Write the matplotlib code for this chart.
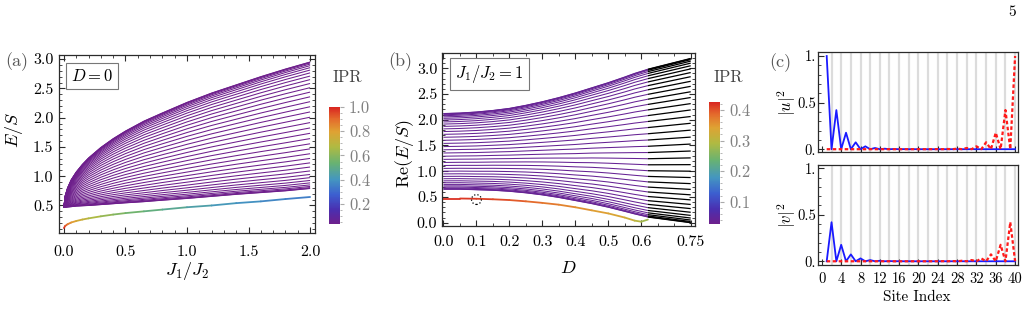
import matplotlib
matplotlib.use("Agg")
import matplotlib.pyplot as plt
import numpy as np
from matplotlib.collections import LineCollection
from matplotlib.colors import LinearSegmentedColormap, Normalize
from matplotlib.cm import ScalarMappable
from matplotlib.ticker import MultipleLocator

plt.rcParams.update({
    "font.family": "serif",
    "font.serif": ["cmr10", "DejaVu Serif"],
    "mathtext.fontset": "cm",
    "axes.unicode_minus": False,
    "font.size": 11,
})

# ---------------- data ----------------
# (a) D = 0 : spectrum against J1/J2
ratio_a = [0.0, 0.01, 0.03, 0.06, 0.1, 0.15, 0.2, 0.3, 0.4, 0.5, 0.65, 0.8, 1.0, 1.2, 1.4, 1.6, 1.8, 2.0]
band_top_a = [0.47, 0.66, 0.80, 0.94, 1.07, 1.20, 1.31, 1.49, 1.64, 1.77, 1.94, 2.08, 2.26, 2.42, 2.56, 2.70, 2.83, 2.95]
band_bot_a = [0.47, 0.47, 0.475, 0.48, 0.49, 0.495, 0.50, 0.515, 0.53, 0.545, 0.565, 0.59, 0.62, 0.655, 0.69, 0.72, 0.75, 0.79]
edge_a = [0.115, 0.15, 0.18, 0.21, 0.235, 0.26, 0.28, 0.315, 0.345, 0.37, 0.40, 0.43, 0.47, 0.50, 0.54, 0.57, 0.61, 0.645]
edge_ipr_a = [1.0, 0.95, 0.89, 0.83, 0.78, 0.73, 0.69, 0.64, 0.60, 0.57, 0.53, 0.50, 0.46, 0.43, 0.40, 0.38, 0.36, 0.34]

# relative position of the 38 bulk levels between band bottom and band top
band_frac = [0.0, 0.0018, 0.0072, 0.0162, 0.0285, 0.0444, 0.0635, 0.0858, 0.111, 0.139,
             0.1697, 0.2027, 0.2379, 0.2749, 0.3135, 0.3535, 0.3946, 0.4364, 0.4788, 0.5212,
             0.5636, 0.6054, 0.6465, 0.6865, 0.7251, 0.7621, 0.7973, 0.8303, 0.861, 0.889,
             0.9142, 0.9365, 0.9556, 0.9715, 0.9838, 0.9928, 0.9982, 1.0]

# (b) J1/J2 = 1 : spectrum against D (real spectrum up to D = 0.62)
d_b = [0.0, 0.05, 0.1, 0.15, 0.2, 0.25, 0.3, 0.35, 0.4, 0.45, 0.5, 0.55, 0.58, 0.6, 0.62]
band_top_b = [2.12, 2.13, 2.15, 2.18, 2.22, 2.28, 2.35, 2.43, 2.52, 2.62, 2.72, 2.83, 2.90, 2.94, 2.98]
band_bot_b = [0.65, 0.65, 0.64, 0.63, 0.61, 0.58, 0.54, 0.49, 0.43, 0.37, 0.30, 0.22, 0.17, 0.14, 0.11]
edge_b = [0.47, 0.47, 0.465, 0.455, 0.44, 0.415, 0.385, 0.35, 0.30, 0.24, 0.18, 0.10, 0.04, 0.02, 0.06]
edge_ipr_b = [0.42, 0.42, 0.41, 0.41, 0.40, 0.39, 0.38, 0.37, 0.36, 0.35, 0.34, 0.33, 0.31, 0.29, 0.27]
# complex region (black): real parts at D = 0.75
d_end_b = 0.75
band_top_end_b = 3.19
band_bot_end_b = 0.0
marked_point_b = (0.1, 0.45)

# (c) edge-state profiles
sites = list(range(1, 41))
u_left = [1.0, 0.0, 0.42, 0.0, 0.177, 0.0, 0.074, 0.0, 0.031, 0.0, 0.013, 0.0, 0.0055, 0.0,
          0.0023, 0.0, 0.001, 0.0, 0.0004, 0.0] + [0.0] * 20
u_right = [0.0] * 20 + [0.0, 0.0004, 0.0, 0.001, 0.0, 0.0023, 0.0, 0.0055, 0.0, 0.013,
                        0.0, 0.031, 0.0, 0.074, 0.0, 0.177, 0.0, 0.42, 0.0, 1.0]
v_left = [0.0, 0.42, 0.0, 0.177, 0.0, 0.074, 0.0, 0.031, 0.0, 0.013, 0.0, 0.0055, 0.0,
          0.0023, 0.0, 0.001, 0.0, 0.0004, 0.0, 0.0] + [0.0] * 20
v_right = [0.0] * 20 + [0.0, 0.0, 0.0004, 0.0, 0.001, 0.0, 0.0023, 0.0, 0.0055, 0.0,
                        0.013, 0.0, 0.031, 0.0, 0.074, 0.0, 0.177, 0.0, 0.42, 0.0]

# ---------------- style ----------------
W, H = 1029, 313
rainbow = LinearSegmentedColormap.from_list("rainbow_m", [
    (0.00, "#6e1f8c"), (0.12, "#4a2fb0"), (0.25, "#3c5fd0"), (0.38, "#4496c0"),
    (0.52, "#68b272"), (0.66, "#b0ba42"), (0.79, "#dfa233"), (0.90, "#e46a2c"),
    (1.00, "#d92521")])
FRAME = "#2b2b2b"
GRAY_TXT = "#808080"


def rect(l, t, r, b):
    return [l / W, 1 - b / H, (r - l) / W, (b - t) / H]


def frame(ax, four=True, size=11.5):
    for s in ax.spines.values():
        s.set_color(FRAME)
        s.set_linewidth(0.9)
    ax.tick_params(which="both", direction="in", top=four, right=four, color=FRAME, labelsize=size)
    ax.tick_params(which="major", length=4, width=0.8)
    ax.tick_params(which="minor", length=2, width=0.6)


def colored_line(ax, x, y, c, norm, lw=1.3):
    pts = np.column_stack([x, y])
    segs = np.stack([pts[:-1], pts[1:]], axis=1)
    cvals = (np.asarray(c[:-1]) + np.asarray(c[1:])) / 2
    lc = LineCollection(segs, cmap=rainbow, norm=norm, linewidths=lw, capstyle="round")
    lc.set_array(cvals)
    ax.add_collection(lc)


def colorbar(cax, norm, major, minor, fmt):
    cb = plt.colorbar(ScalarMappable(norm=norm, cmap=rainbow), cax=cax)
    cb.outline.set_visible(False)
    cb.set_ticks(major)
    cb.set_ticklabels([fmt.format(t) for t in major])
    cax.yaxis.set_minor_locator(MultipleLocator(minor))
    cax.tick_params(which="both", direction="out", colors="#aaaaaa", labelcolor=GRAY_TXT, labelsize=12)
    cax.tick_params(which="major", length=3)
    cax.tick_params(which="minor", length=1.5)


fig = plt.figure(figsize=(W / 100, H / 100), dpi=100)

# ---------------- (a) ----------------
ax = fig.add_axes(rect(59, 55, 315, 233))
frame(ax)
norm_a = Normalize(0.035, 1.0)
top = np.array(band_top_a)
bot = np.array(band_bot_a)
purple = rainbow(0.0)
for f in band_frac:
    ax.plot(ratio_a, bot + f * (top - bot), color=purple, lw=0.75, solid_capstyle="butt")
colored_line(ax, ratio_a, edge_a, edge_ipr_a, norm_a)
ax.set_xlim(-0.04, 2.04)
ax.set_ylim(0.03, 3.07)
ax.set_xticks([0.0, 0.5, 1.0, 1.5, 2.0])
ax.set_xticklabels(["0.0", "0.5", "1.0", "1.5", "2.0"])
ax.set_yticks([0.5, 1.0, 1.5, 2.0, 2.5, 3.0])
ax.set_yticklabels(["0.5", "1.0", "1.5", "2.0", "2.5", "3.0"])
ax.xaxis.set_minor_locator(MultipleLocator(0.1))
ax.yaxis.set_minor_locator(MultipleLocator(0.1))
ax.tick_params(axis="x", pad=9)
ax.tick_params(axis="y", pad=4)
ax.text(0.045, 0.855, "$D=0$", transform=ax.transAxes, fontsize=12,
        bbox=dict(boxstyle="square,pad=0.3", fc="white", ec="#777777", lw=0.8))
fig.text(187 / W, 1 - 271 / H, "$J_1/J_2$", ha="center", va="center", fontsize=13)
fig.text(14 / W, 1 - 130 / H, "$E/S$", ha="center", va="center", rotation=90, fontsize=13)
fig.text(17 / W, 1 - 62 / H, "(a)", ha="center", va="center", fontsize=13, color="#555555")

cax = fig.add_axes(rect(329, 107, 340, 224))
colorbar(cax, norm_a, [0.2, 0.4, 0.6, 0.8, 1.0], 0.05, "{:.1f}")
fig.text(347 / W, 1 - 77 / H, "IPR", ha="center", va="center", fontsize=12, color="#444444")

# ---------------- (b) ----------------
ax = fig.add_axes(rect(441.5, 53.3, 695, 226))
frame(ax)
norm_b = Normalize(0.027, 0.427)
top = np.array(band_top_b)
bot = np.array(band_bot_b)
purple_b = rainbow(0.03)
for f in band_frac:
    ax.plot(d_b, bot + f * (top - bot), color=purple_b, lw=0.75, solid_capstyle="butt")
    start = bot[-1] + f * (top[-1] - bot[-1])
    end = band_bot_end_b + f * (band_top_end_b - band_bot_end_b)
    ax.plot([d_b[-1], d_end_b], [start, end], color="black", lw=0.9, solid_capstyle="butt")
colored_line(ax, d_b, edge_b, edge_ipr_b, norm_b)
ax.scatter([marked_point_b[0]], [marked_point_b[1]], s=50, facecolors="none",
           edgecolors="black", linestyles=":", linewidths=0.9, zorder=5)
ax.set_xlim(-0.006, 0.763)
ax.set_ylim(-0.064, 3.29)
ax.set_xticks([0.0, 0.1, 0.2, 0.3, 0.4, 0.5, 0.6, 0.75])
ax.set_xticklabels(["0.0", "0.1", "0.2", "0.3", "0.4", "0.5", "0.6", "0.75"])
ax.set_yticks([0.0, 0.5, 1.0, 1.5, 2.0, 2.5, 3.0])
ax.set_yticklabels(["0.0", "0.5", "1.0", "1.5", "2.0", "2.5", "3.0"])
ax.xaxis.set_minor_locator(MultipleLocator(0.05))
ax.yaxis.set_minor_locator(MultipleLocator(0.1))
ax.tick_params(axis="x", pad=7)
ax.tick_params(axis="y", pad=3)
ax.text(0.055, 0.855, "$J_1/J_2=1$", transform=ax.transAxes, fontsize=12,
        bbox=dict(boxstyle="square,pad=0.3", fc="white", ec="#777777", lw=0.8))
fig.text(568 / W, 1 - 268 / H, "$D$", ha="center", va="center", fontsize=13)
fig.text(405 / W, 1 - 154 / H, r"$\mathrm{Re}(E/S)$", ha="center", va="center", rotation=90, fontsize=13)
fig.text(400 / W, 1 - 62 / H, "(b)", ha="center", va="center", fontsize=13, color="#555555")

cax = fig.add_axes(rect(709, 101.7, 720, 224))
colorbar(cax, norm_b, [0.1, 0.2, 0.3, 0.4], 0.02, "{:.1f}")
fig.text(728 / W, 1 - 77 / H, "IPR", ha="center", va="center", fontsize=12, color="#444444")

# ---------------- (c) ----------------
for rc, left, right, ylab, ylim, last in [
        ((818, 52.3, 1018, 152), u_left, u_right, "$|u|^2$", (-0.03, 1.04), False),
        ((818, 165, 1018, 265), v_left, v_right, "$|v|^2$", (-0.04, 1.035), True)]:
    ax = fig.add_axes(rect(*rc))
    frame(ax, four=False, size=10.5)
    for s in range(2, 41, 2):
        ax.axvline(s, color="#dcdcdc", lw=1.6, zorder=0)
    ax.plot(sites, left, color="#1a1aff", lw=1.3, zorder=2)
    ax.plot(sites, right, color="#ff1a1a", lw=1.6, ls=(0, (1.6, 1.1)), zorder=3)
    ax.set_xlim(-0.8, 40.6)
    ax.set_ylim(*ylim)
    ax.set_xticks(range(0, 41, 4))
    ax.set_yticks([0.0, 0.5, 1.0])
    ax.set_yticklabels(["0.", "0.5", "1."])
    ax.yaxis.set_minor_locator(MultipleLocator(0.1))
    ax.tick_params(axis="y", pad=1.5)
    ax.tick_params(axis="x", pad=5)
    if not last:
        ax.set_xticklabels([])
    fig.text(787 / W, 1 - ((rc[1] + rc[3]) / 2) / H, ylab, ha="center", va="center",
             rotation=90, fontsize=12)
fig.text(917 / W, 1 - 297 / H, "Site Index", ha="center", va="center", fontsize=11)
fig.text(780 / W, 1 - 63 / H, "(c)", ha="center", va="center", fontsize=13, color="#555555")

fig.text(1012 / W, 1 - 12 / H, "5", ha="center", va="center", fontsize=11)

fig.savefig("out.png", dpi=100)
